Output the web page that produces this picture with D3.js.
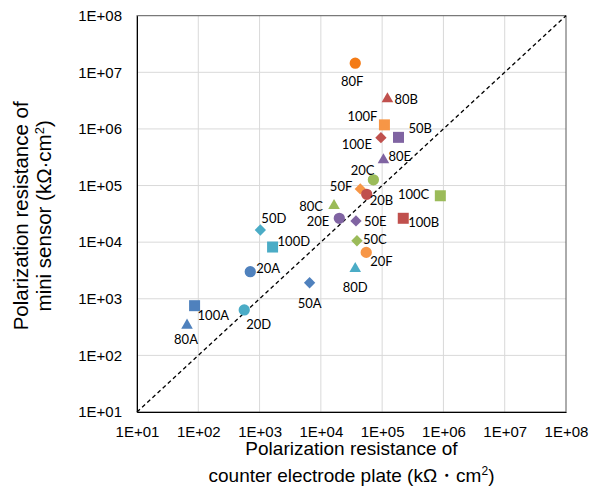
<!DOCTYPE html>
<html><head><meta charset="utf-8">
<script src="https://cdn.jsdelivr.net/npm/d3@7"></script>
<style>body{margin:0;background:#fff}svg{display:block}</style>
</head><body>
<script>
// ---- data ----
const pointLabels = ["80F","80B","100F","100E","50B","80E","20C","50F","20B","100C","80C","20E","50E","100B","50D","100D","50C","20F","20A","80D","50A","100A","20D","80A"];
const counterPlate = [3.64e4,1.22e5,1.09e5,9.55e4,1.85e5,1.05e5,7.2e4,4.4e4,5.6e4,8.9e5,1.64e4,2.0e4,3.74e4,2.21e5,1.03e3,1.63e3,3.88e4,5.5e4,705,3.64e4,6.55e3,87,562,65.5];
const miniSensor   = [1.45e7,3.39e6,1.18e6,7.0e5,7.1e5,2.83e5,1.26e5,8.7e4,7.0e4,6.6e4,4.4e4,2.64e4,2.37e4,2.64e4,1.64e4,8.2e3,1.06e4,6.6e3,3.01e3,3.39e3,1.92e3,755,634,340];
const tickValues = [1e1,1e2,1e3,1e4,1e5,1e6,1e7,1e8];
const tickLabels = ["1E+01","1E+02","1E+03","1E+04","1E+05","1E+06","1E+07","1E+08"];

// ---- styles ----
const seriesColor = {A:"#4F81BD",B:"#C0504D",C:"#9BBB59",D:"#4BACC6",E:"#8064A2",F:"#F79646"};
const colorOverride = {"80F":"#F47B16","50B":"#8064A2","100E":"#C0504D"};
const shapeByNum = {"20":"circle","50":"diamond","80":"triangle","100":"square"};
const shapeOverride = {"80F":"circle","50B":"square","100E":"diamond"};
const labelPos = {
 "80F":[-3,18,"middle"],"80B":[7,0,"start"],"100F":[-7,-9,"end"],"50B":[10,-9,"start"],
 "100E":[-9,6,"end"],"80E":[5,-4,"start"],"20C":[1,-9.5,"end"],"50F":[-8,-3,"end"],
 "20B":[3,6,"start"],"100C":[-11,-2,"end"],"80C":[-11,0,"end"],"20E":[-10,3,"end"],
 "50E":[8,0,"start"],"100B":[5,4,"start"],"50D":[1,-12,"start"],"100D":[5,-6,"start"],
 "50C":[6,-2,"start"],"20F":[4,9,"start"],"20A":[6,-4,"start"],"80D":[0,18,"middle"],
 "50A":[0,20,"middle"],"100A":[3,9,"start"],"20D":[2,14,"start"],"80A":[-1,14,"middle"]
};

const W=590,H=492;
const L=137,R=566,T=15.7,B=412;
const x=d3.scaleLog().domain([1e1,1e8]).range([L,R]);
const y=d3.scaleLog().domain([1e1,1e8]).range([B,T]);

const svg=d3.select("body").append("svg").attr("width",W).attr("height",H);

// gridlines
const g=svg.append("g");
g.selectAll(".gx").data(tickValues.slice(1,-1)).enter().append("line")
 .attr("x1",d=>x(d)).attr("x2",d=>x(d)).attr("y1",T).attr("y2",B)
 .attr("stroke","#D9D9D9").attr("stroke-width",1);
g.selectAll(".gy").data(tickValues.slice(1,-1)).enter().append("line")
 .attr("y1",d=>y(d)).attr("y2",d=>y(d)).attr("x1",L).attr("x2",R)
 .attr("stroke","#D9D9D9").attr("stroke-width",1);

// plot border
svg.append("rect").attr("x",L).attr("y",T).attr("width",R-L).attr("height",B-T)
 .attr("fill","none").attr("stroke","#595959").attr("stroke-width",1);

// axes
const xAxis=d3.axisBottom(x).tickValues(tickValues).tickFormat((d,i)=>tickLabels[i]).tickSize(0).tickPadding(14);
const yAxis=d3.axisLeft(y).tickValues(tickValues).tickFormat((d,i)=>tickLabels[i]).tickSize(0).tickPadding(15);
const gx=svg.append("g").attr("transform",`translate(0,${B})`).call(xAxis);
const gy=svg.append("g").attr("transform",`translate(${L},0)`).call(yAxis);
[gx,gy].forEach(a=>{
  a.select(".domain").attr("stroke","#000").attr("stroke-width",1);
  a.selectAll("text").attr("font-family","'Liberation Sans',Arial,sans-serif").attr("font-size","15px").attr("fill","#000");
});

// 1:1 line
svg.append("line").attr("x1",x(1e1)).attr("y1",y(1e1)).attr("x2",x(1e8)).attr("y2",y(1e8))
 .attr("stroke","#000").attr("stroke-width",1.3).attr("stroke-dasharray","4,3");

// points
const symType={circle:d3.symbolCircle,square:d3.symbolSquare,diamond:d3.symbolSquare,triangle:d3.symbolTriangle};
const symSize={circle:100,square:121,diamond:64,triangle:58};
const pts=pointLabels.map((lab,i)=>{
  const m=lab.match(/^(\d+)([A-Z])$/);
  return {lab,shape:shapeOverride[lab]||shapeByNum[m[1]],color:colorOverride[lab]||seriesColor[m[2]],xv:counterPlate[i],yv:miniSensor[i]};
});
svg.append("g").selectAll("path").data(pts).enter().append("path")
 .attr("d",d=>d3.symbol().type(symType[d.shape]).size(symSize[d.shape])())
 .attr("transform",d=>`translate(${x(d.xv)},${y(d.yv)})`+(d.shape==="diamond"?" rotate(45)":""))
 .attr("fill",d=>d.color);

// labels
svg.append("g").selectAll("text").data(pts).enter().append("text")
 .attr("x",d=>x(d.xv)+labelPos[d.lab][0])
 .attr("y",d=>y(d.yv)+labelPos[d.lab][1])
 .attr("text-anchor",d=>labelPos[d.lab][2])
 .attr("dominant-baseline","central")
 .attr("font-family","Lato,'Open Sans',sans-serif").attr("font-size","13px").attr("fill","#000")
 .text(d=>d.lab);

// axis titles
const xt=svg.append("text").attr("text-anchor","middle").attr("font-family","'Liberation Sans',Arial,sans-serif")
 .attr("font-size","19px").attr("fill","#000");
xt.append("tspan").attr("x",(L+R)/2).attr("y",455).text("Polarization resistance of");
const l2=xt.append("tspan").attr("x",(L+R)/2).attr("y",481.5);
l2.append("tspan").text("counter electrode plate (kΩ・cm");
l2.append("tspan").attr("font-size","12px").attr("dy",-7).text("2");
l2.append("tspan").attr("dy",7).text(")");

const yt=svg.append("text").attr("text-anchor","middle").attr("font-family","'Liberation Sans',Arial,sans-serif")
 .attr("font-size","20.5px").attr("fill","#000")
 .attr("transform",`translate(0,${(T+B)/2+2}) rotate(-90)`);
yt.append("tspan").attr("x",0).attr("y",28).text("Polarization resistance of");
const m2=yt.append("tspan").attr("x",0).attr("y",51);
m2.append("tspan").text("mini sensor (kΩ·cm");
m2.append("tspan").attr("font-size","13px").attr("dy",-7).text("2");
m2.append("tspan").attr("dy",7).text(")");
</script>
</body></html>
